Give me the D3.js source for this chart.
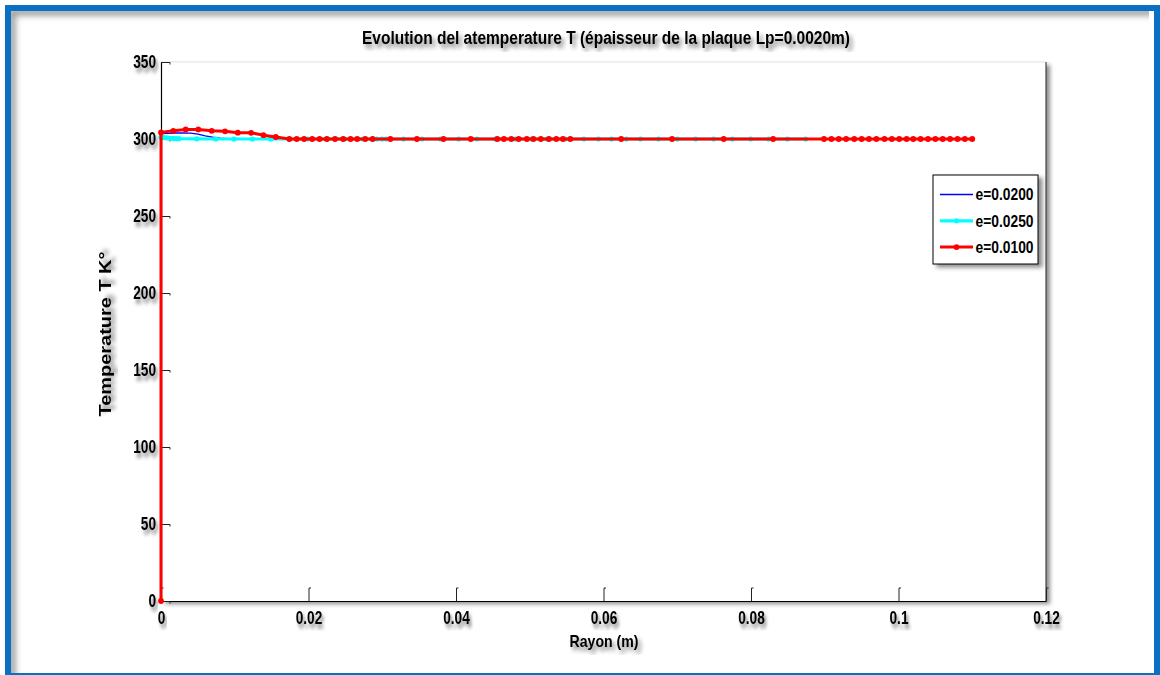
<!DOCTYPE html>
<html>
<head>
<meta charset="utf-8">
<script src="https://cdn.jsdelivr.net/npm/d3@7"></script>
<style>
  html, body { margin: 0; padding: 0; background: #fff; }
  svg { display: block; }
  text { font-family: "Liberation Sans Narrow", "Arial Narrow", "Liberation Sans", Arial, sans-serif; font-weight: bold; fill: #000; }
</style>
</head>
<body>
<svg id="chart" width="1160" height="675"></svg>
<script>
// Axis ticks
const xTicks = [0, 0.02, 0.04, 0.06, 0.08, 0.1, 0.12];
const xTickLabels = ["0", "0.02", "0.04", "0.06", "0.08", "0.1", "0.12"];
const yTicks = [0, 50, 100, 150, 200, 250, 300, 350];
const yTickLabels = ["0", "50", "100", "150", "200", "250", "300", "350"];

// Series: e = 0.0200 (thin line, no markers)
const rayonE0200 = [0, 0.001, 0.002, 0.003, 0.004, 0.005, 0.006, 0.007, 0.008, 0.009, 0.010, 0.012, 0.015, 0.020, 0.030, 0.040, 0.050, 0.060, 0.070, 0.080, 0.090];
const tempE0200  = [303.5, 303.7, 303.9, 304.0, 303.8, 303.1, 302.0, 301.2, 300.6, 300.3, 300.1, 300.0, 300.0, 300.0, 300.0, 300.0, 300.0, 300.0, 300.0, 300.0, 300.0];

// Series: e = 0.0250 (line with dot markers)
const rayonE0250 = [0, 0.00041, 0.00081, 0.00122, 0.00163, 0.00204, 0.00244, 0.00485, 0.00743, 0.00991,
  0.01239, 0.01489, 0.01738, 0.01987, 0.02237, 0.02487, 0.02737, 0.0286, 0.02928, 0.02996,
  0.03054, 0.03289, 0.03539, 0.03787, 0.04036, 0.04286, 0.04534, 0.04806, 0.05023, 0.05236,
  0.05484, 0.05733, 0.05932, 0.06109, 0.06308, 0.06502, 0.06746, 0.07001, 0.07249, 0.07493,
  0.07747, 0.07996, 0.08240, 0.08494, 0.08742];
const tempE0250 = [301.2, 300.9, 300.7, 300.5, 300.4, 300.3, 300.2, 300.1, 300.0, 300.0,
  300.0, 300.0, 300.0, 300.0, 300.0, 300.0, 300.0, 300.0, 300.0, 300.0,
  300.0, 300.0, 300.0, 300.0, 300.0, 300.0, 300.0, 300.0, 300.0, 300.0,
  300.0, 300.0, 300.0, 300.0, 300.0, 300.0, 300.0, 300.0, 300.0, 300.0,
  300.0, 300.0, 300.0, 300.0, 300.0];

// Series: e = 0.0100 (line with dot markers)
const rayonE0100 = [0, 0, 0.00167, 0.00335, 0.00506, 0.00688, 0.00869, 0.01041, 0.01222, 0.01389,
  0.01557, 0.0174, 0.0184, 0.0194, 0.0205, 0.0215, 0.0225, 0.0236, 0.0247, 0.0257,
  0.0266, 0.0277, 0.0287, 0.0311, 0.0347, 0.0383, 0.0420, 0.0456, 0.0465, 0.0475,
  0.0485, 0.0496, 0.0505, 0.0515, 0.0526, 0.0536, 0.0545, 0.0555, 0.0624, 0.0693,
  0.0763, 0.0830, 0.0899, 0.0909, 0.0919, 0.0929, 0.0940, 0.0950, 0.0960, 0.0970,
  0.0981, 0.0991, 0.1001, 0.1011, 0.1020, 0.1030, 0.1040, 0.1050, 0.1060, 0.1070,
  0.1080, 0.1090, 0.1100];
const tempE0100 = [0, 304.3, 305.3, 306.2, 306.2, 305.3, 305.0, 304.1, 304.0, 302.5,
  301.3, 300.0, 300.0, 300.0, 300.0, 300.0, 300.0, 300.0, 300.0, 300.0,
  300.0, 300.0, 300.0, 300.0, 300.0, 300.0, 300.0, 300.0, 300.0, 300.0,
  300.0, 300.0, 300.0, 300.0, 300.0, 300.0, 300.0, 300.0, 300.0, 300.0,
  300.0, 300.0, 300.0, 300.0, 300.0, 300.0, 300.0, 300.0, 300.0, 300.0,
  300.0, 300.0, 300.0, 300.0, 300.0, 300.0, 300.0, 300.0, 300.0, 300.0,
  300.0, 300.0, 300.0];

const legendLabels = ["e=0.0200", "e=0.0250", "e=0.0100"];

const series = [
  { name: legendLabels[0], xs: rayonE0200, ys: tempE0200, color: "#0000ff", width: 1.3, marker: 0 },
  { name: legendLabels[1], xs: rayonE0250, ys: tempE0250, color: "#00ffff", width: 3.2, marker: 2.6 },
  { name: legendLabels[2], xs: rayonE0100, ys: tempE0100, color: "#ff0000", width: 3, marker: 2.9 }
];

const svg = d3.select("#chart");
const W = 1160, H = 675;
const plot = { left: 161, top: 62, right: 1046, bottom: 601 };
const narrow = "scale(0.76,1)";   // condensed glyphs for the numeric labels

// ---- filters ----
const defs = svg.append("defs");
function dropShadow(id, dx, dy, blur, opacity) {
  const f = defs.append("filter").attr("id", id)
    .attr("x", "-20%").attr("y", "-20%").attr("width", "140%").attr("height", "140%");
  f.append("feGaussianBlur").attr("in", "SourceAlpha").attr("stdDeviation", blur).attr("result", "b");
  f.append("feOffset").attr("in", "b").attr("dx", dx).attr("dy", dy).attr("result", "o");
  f.append("feFlood").attr("flood-color", "#000").attr("flood-opacity", opacity).attr("result", "c");
  f.append("feComposite").attr("in", "c").attr("in2", "o").attr("operator", "in").attr("result", "s");
  const m = f.append("feMerge");
  m.append("feMergeNode").attr("in", "s");
  m.append("feMergeNode").attr("in", "SourceGraphic");
}
dropShadow("textShadow", 3, 4, 2.2, 0.5);
dropShadow("boxShadow", 4, 3, 2, 0.45);
defs.append("filter").attr("id", "soft").append("feGaussianBlur").attr("stdDeviation", 3);
defs.append("clipPath").attr("id", "innerClip").append("rect")
  .attr("x", 11).attr("y", 11).attr("width", W - 22).attr("height", H);

// ---- page background and frame ----
svg.append("rect").attr("width", W).attr("height", H).attr("fill", "#fff");
svg.append("g").attr("clip-path", "url(#innerClip)")
  .append("path")
  .attr("d", `M12,${H + 10} L12,12 L${W},12`)
  .attr("fill", "none").attr("stroke", "#9a9a9a").attr("stroke-width", 7)
  .attr("filter", "url(#soft)");
svg.append("rect")
  .attr("x", 8).attr("y", 8).attr("width", 1149).attr("height", 668)
  .attr("fill", "none").attr("stroke", "#0a70c4").attr("stroke-width", 6);

// ---- scales ----
const x = d3.scaleLinear().domain([0, 0.12]).range([plot.left, plot.right]);
const y = d3.scaleLinear().domain([0, 350]).range([plot.bottom, plot.top]);

// ---- plot box ----
svg.append("rect")
  .attr("x", plot.left).attr("y", plot.top)
  .attr("width", plot.right - plot.left).attr("height", plot.bottom - plot.top)
  .attr("fill", "#fff").attr("filter", "url(#boxShadow)");
svg.append("line").attr("x1", plot.left).attr("x2", plot.right).attr("y1", plot.top).attr("y2", plot.top)
  .attr("stroke", "#e2e2e2").attr("stroke-width", 1);
svg.append("line").attr("x1", plot.right).attr("x2", plot.right).attr("y1", plot.top).attr("y2", plot.bottom)
  .attr("stroke", "#444").attr("stroke-width", 1.2);

// ---- axes ----
const xAxis = d3.axisBottom(x).tickValues(xTicks)
  .tickFormat((d, i) => xTickLabels[i]).tickSizeInner(-13).tickSizeOuter(0).tickPadding(10);
const yAxis = d3.axisLeft(y).tickValues(yTicks)
  .tickFormat((d, i) => yTickLabels[i]).tickSizeInner(-9).tickSizeOuter(0).tickPadding(6.5);

const gx = svg.append("g").attr("transform", `translate(0,${plot.bottom})`).call(xAxis);
const gy = svg.append("g").attr("transform", `translate(${plot.left},0)`).call(yAxis);
[gx, gy].forEach(g => {
  g.select(".domain").attr("stroke", "#000").attr("stroke-width", 1.2);
  g.selectAll(".tick line").attr("stroke", "#222").attr("stroke-width", 1);
  g.selectAll(".tick text").attr("font-size", 18).attr("fill", "#000")
    .attr("transform", narrow).attr("filter", "url(#textShadow)");
});
// small hooks at the inner end of the tick marks
gx.selectAll(".tick").append("line")
  .attr("x1", 0).attr("x2", 2).attr("y1", -13).attr("y2", -13).attr("stroke", "#222");
gy.selectAll(".tick").append("line")
  .attr("x1", 9).attr("x2", 9).attr("y1", 0).attr("y2", 2).attr("stroke", "#222");

// ---- series ----
const line = d3.line().x(d => x(d[0])).y(d => y(d[1]));
series.forEach(s => {
  const pts = s.xs.map((v, i) => [v, s.ys[i]]);
  const g = svg.append("g");
  g.append("path").datum(pts).attr("d", line)
    .attr("fill", "none").attr("stroke", s.color).attr("stroke-width", s.width)
    .attr("stroke-linejoin", "round");
  if (s.marker > 0) {
    g.selectAll("circle").data(pts).join("circle")
      .attr("cx", d => x(d[0])).attr("cy", d => y(d[1])).attr("r", s.marker)
      .attr("fill", s.color);
  }
});

// ---- legend ----
const lg = svg.append("g").attr("transform", "translate(933,175)");
lg.append("rect").attr("width", 105).attr("height", 89)
  .attr("fill", "#fff").attr("stroke", "#000").attr("stroke-width", 1)
  .attr("filter", "url(#boxShadow)");
series.forEach((s, i) => {
  const yy = 19.5 + i * 26.3;
  lg.append("line").attr("x1", 7).attr("x2", 40).attr("y1", yy).attr("y2", yy)
    .attr("stroke", s.color).attr("stroke-width", s.width);
  if (s.marker > 0) {
    lg.append("circle").attr("cx", 23.5).attr("cy", yy).attr("r", s.marker).attr("fill", s.color);
  }
  lg.append("text").attr("x", 42.5).attr("y", yy).attr("dy", "0.36em")
    .attr("font-size", 16.5).attr("textLength", 58).attr("lengthAdjust", "spacingAndGlyphs")
    .text(s.name);
});

// ---- titles ----
svg.append("text").attr("x", 606).attr("y", 44).attr("text-anchor", "middle")
  .attr("font-size", 18).attr("textLength", 488).attr("lengthAdjust", "spacingAndGlyphs")
  .attr("filter", "url(#textShadow)")
  .text("Evolution del atemperature T (épaisseur de la plaque Lp=0.0020m)");
svg.append("text").attr("x", 604).attr("y", 647).attr("text-anchor", "middle")
  .attr("font-size", 17).attr("textLength", 69).attr("lengthAdjust", "spacingAndGlyphs")
  .attr("filter", "url(#textShadow)")
  .text("Rayon (m)");
svg.append("text").attr("transform", "translate(111,334) rotate(-90)")
  .attr("text-anchor", "middle").attr("font-size", 16.5)
  .attr("textLength", 165).attr("lengthAdjust", "spacingAndGlyphs")
  .attr("filter", "url(#textShadow)")
  .text("Temperature T K°");
</script>
</body>
</html>
